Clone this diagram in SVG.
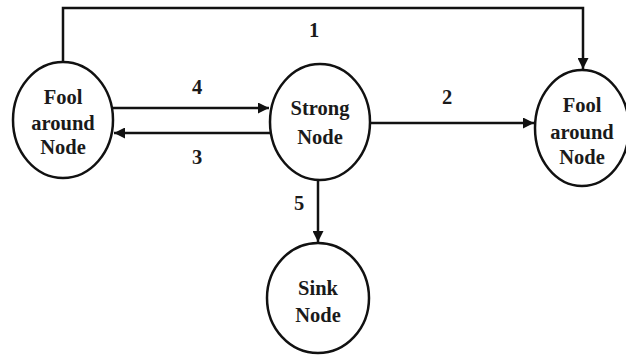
<svg xmlns="http://www.w3.org/2000/svg" width="626" height="358" viewBox="0 0 626 358">
  <style>
    .node { fill: #ffffff; stroke: #111111; stroke-width: 2.5; }
    .edge { fill: none; stroke: #111111; stroke-width: 2.5; }
    .txt { font-family: 'Liberation Serif', 'DejaVu Serif', serif; font-weight: 700; font-size: 20.5px; fill: #1a1a1a; text-anchor: middle; }
  </style>
  <defs>
    <marker id="arrow" viewBox="0 0 10 10" refX="10" refY="5" markerWidth="4.4" markerHeight="4.4" orient="auto" markerUnits="strokeWidth">
      <path d="M0,0 L10,5 L0,10 Z" fill="#111111"/>
    </marker>
  </defs>
  <rect width="626" height="358" fill="#ffffff"/>

  <g id="connectors">
    <path class="edge" d="M63,62 V8 H583 V69" marker-end="url(#arrow)"/>
    <path class="edge" d="M113,108 H269" marker-end="url(#arrow)"/>
    <path class="edge" d="M270,133 H114" marker-end="url(#arrow)"/>
    <path class="edge" d="M371,123 H534" marker-end="url(#arrow)"/>
    <path class="edge" d="M318,180 V242" marker-end="url(#arrow)"/>
    <text class="txt" x="314" y="37">1</text>
    <text class="txt" x="447" y="104">2</text>
    <text class="txt" x="197" y="164">3</text>
    <text class="txt" x="197" y="94">4</text>
    <text class="txt" x="299" y="210">5</text>
  </g>

  <g id="fool-around-left">
    <ellipse class="node" cx="63" cy="120" rx="50" ry="58"/>
    <text class="txt" x="63" y="104">Fool</text>
    <text class="txt" x="63" y="130">around</text>
    <text class="txt" x="63" y="154">Node</text>
  </g>

  <g id="strong-node">
    <ellipse class="node" cx="320" cy="122" rx="50" ry="58"/>
    <text class="txt" x="320" y="115">Strong</text>
    <text class="txt" x="320" y="144">Node</text>
  </g>

  <g id="fool-around-right">
    <ellipse class="node" cx="582" cy="128" rx="47" ry="58"/>
    <text class="txt" x="582" y="112">Fool</text>
    <text class="txt" x="582" y="139">around</text>
    <text class="txt" x="582" y="164">Node</text>
  </g>

  <g id="sink-node">
    <ellipse class="node" cx="318" cy="298" rx="51" ry="55"/>
    <text class="txt" x="318" y="295">Sink</text>
    <text class="txt" x="318" y="322">Node</text>
  </g>
</svg>
